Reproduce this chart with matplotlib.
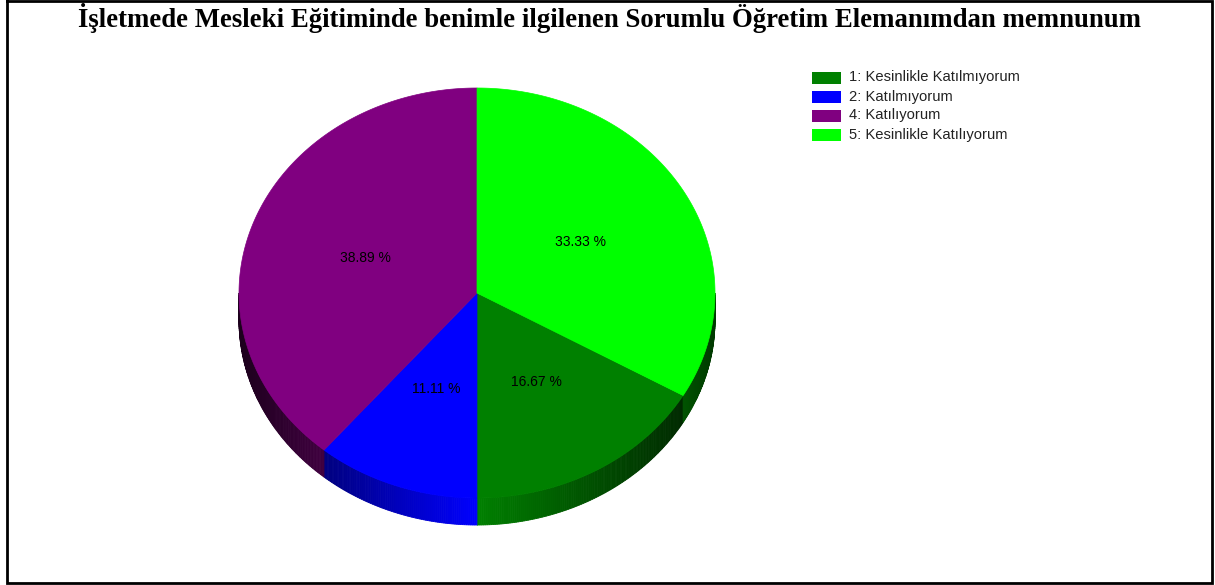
import numpy as np
import matplotlib
matplotlib.use("Agg")
import matplotlib.pyplot as plt
from matplotlib.patches import Polygon, Rectangle

# chart data (legend order)
labels = ["1: Kesinlikle Katılmıyorum", "2: Katılmıyorum",
          "4: Katılıyorum", "5: Kesinlikle Katılıyorum"]
percents = [16.67, 11.11, 38.89, 33.33]
colors = ["#008000", "#0000ff", "#800080", "#00ff00"]
title = "İşletmede Mesleki Eğitiminde benimle ilgilenen Sorumlu Öğretim Elemanımdan memnunum"

# pie geometry in pixels
cx, cy = 477, 293
rx, ry = 238, 205
depth = 27
start_deg = 120  # first slice begins here, clockwise from 12 o'clock


def rim(theta_deg):
    t = np.radians(theta_deg)
    return cx + rx * np.sin(t), cy - ry * np.cos(t)


def shade(color, f):
    c = np.array(matplotlib.colors.to_rgb(color))
    return tuple(np.clip(c * f, 0, 1))


fig = plt.figure(figsize=(12.15, 5.85), dpi=100)
ax = fig.add_axes([0, 0, 1, 1])
ax.set_xlim(0, 1215)
ax.set_ylim(585, 0)
ax.axis("off")

# slice angles
total = sum(percents)
bounds = []
a = start_deg
for p in percents:
    span = 360 * p / total
    bounds.append((a, a + span))
    a += span

# side walls (front half only), darker toward the sides
for (a0, a1), col in zip(bounds, colors):
    steps = np.arange(a0, a1, 0.5)
    edges = list(steps) + [a1]
    for s0, s1 in zip(edges[:-1], edges[1:]):
        s0m = s0 % 360
        s1m = s0m + (s1 - s0)
        if s0m < 90 or s0m >= 270:
            continue
        mid = np.radians((s0m + s1m) / 2)
        f = 1 - 0.78 * abs(np.sin(mid))
        x0, y0 = rim(s0m)
        x1, y1 = rim(s1m)
        c = shade(col, f)
        ax.add_patch(Polygon([(x0, y0), (x1, y1), (x1, y1 + depth), (x0, y0 + depth)],
                             closed=True, facecolor=c, edgecolor=c, lw=0.6))

# top faces
for (a0, a1), col, p in zip(bounds, colors, percents):
    th = np.linspace(a0, a1, 200)
    xs, ys = rim(th)
    pts = [(cx, cy)] + list(zip(xs, ys))
    ax.add_patch(Polygon(pts, closed=True, facecolor=col, edgecolor=col, lw=0.5))
    m = np.radians((a0 + a1) / 2)
    ax.text(cx + 0.5 * rx * np.sin(m), cy - 0.5 * ry * np.cos(m), f"{p:.2f} %",
            ha="center", va="center", fontsize=10, family="Liberation Sans",
            color="black")

# legend
for i, (lab, col) in enumerate(zip(labels, colors)):
    y = 77.5 + i * 19
    ax.add_patch(Rectangle((812, y - 6), 29, 12, facecolor=col, edgecolor="none"))
    ax.text(849, y, lab, ha="left", va="center", fontsize=10.6,
            family="Liberation Sans", color="#222222")

ax.text(609, 18, title, ha="center", va="center", fontsize=19.3,
        family="Liberation Serif", fontweight="bold", color="black")

# frame
ax.plot([7, 7, 1212, 1212, 7], [1, 583, 583, 1, 1], color="black", lw=2,
        solid_joinstyle="miter")

fig.savefig("out.png", dpi=100)
